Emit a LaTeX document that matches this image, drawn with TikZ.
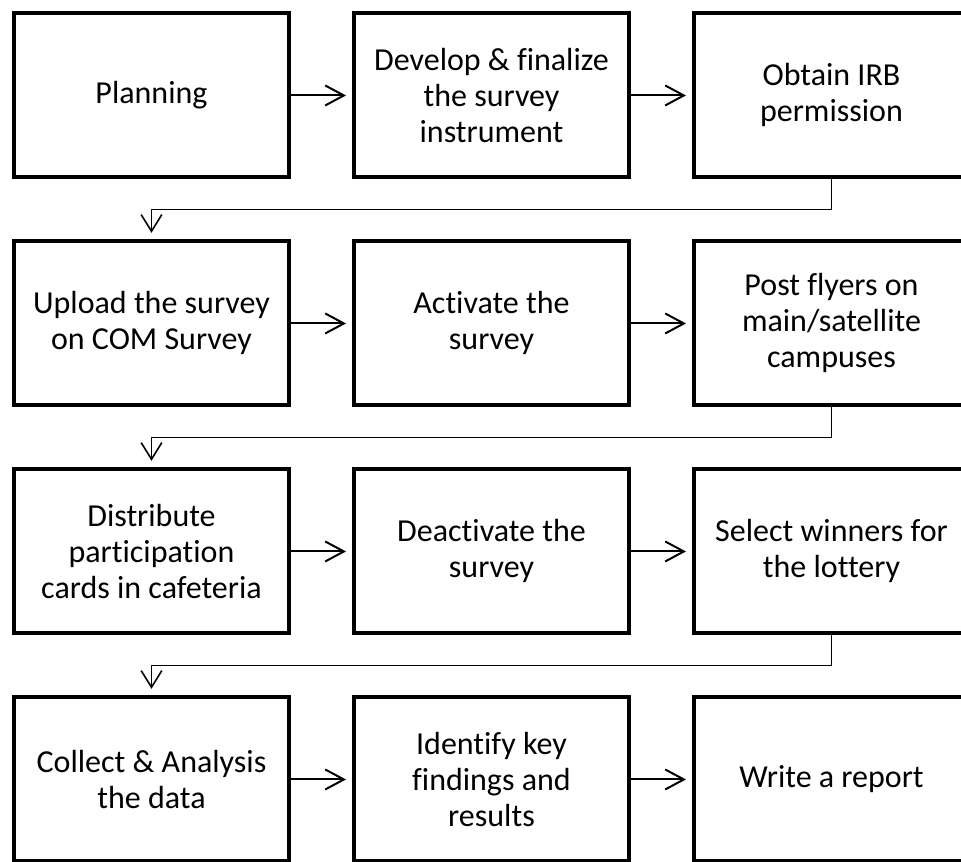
\documentclass[tikz,border=0pt]{standalone}
\usepackage{fontspec}
\setmainfont{Carlito}[Ligatures=NoCommon]
\usetikzlibrary{positioning,arrows.meta}
\tikzset{
  stage/.style = {draw, line width=3pt, align=center, minimum width=206.25pt,
                  minimum height=123pt, font=\fontsize{24}{27}\selectfont},
  arrow/.style = {-{Straight Barb[length=14pt,width=15pt]}, line width=1.5pt, shorten >=4.5pt},
  link/.style  = {-{Straight Barb[length=12.5pt,width=15.5pt]}, line width=1.2pt, shorten >=5pt},
}
\begin{document}
\begin{tikzpicture}[node distance=45pt and 45.75pt]
  \useasboundingbox (0,0) rectangle (720.75pt,-646.5pt);
  % row 1
  \node[stage, anchor=north west] (plan) at (9pt,-8.6pt) {Planning};
  \node[stage, right=of plan] (develop) {Develop \& finalize\\the survey\\instrument};
  \node[stage, right=of develop] (irb) {Obtain IRB\\permission};
  % row 2
  \node[stage, below=of plan] (upload) {Upload the survey\\on COM Survey};
  \node[stage, right=of upload] (activate) {Activate the\\survey};
  \node[stage, right=of activate] (flyers) {Post flyers on\\main/satellite\\campuses};
  % row 3
  \node[stage, below=of upload] (cards) {Distribute\\participation\\cards in cafeteria};
  \node[stage, right=of cards] (deactivate) {Deactivate the\\survey};
  \node[stage, right=of deactivate] (winners) {Select winners for\\the lottery};
  % row 4
  \node[stage, below=of cards] (collect) {Collect \& Analysis\\the data};
  \node[stage, right=of collect] (findings) {Identify key\\findings and\\results};
  \node[stage, right=of findings] (report) {Write a report};

  \draw[arrow] (plan) -- (develop);
  \draw[arrow] (develop) -- (irb);
  \draw[arrow] (upload) -- (activate);
  \draw[arrow] (activate) -- (flyers);
  \draw[arrow] (cards) -- (deactivate);
  \draw[arrow] (deactivate) -- (winners);
  \draw[arrow] (collect) -- (findings);
  \draw[arrow] (findings) -- (report);

  % row to row
  \draw[link] (irb.south) -- ++(0,-22.5pt) -| (upload.north);
  \draw[link] (flyers.south) -- ++(0,-22.5pt) -| (cards.north);
  \draw[link] (winners.south) -- ++(0,-22.5pt) -| (collect.north);
\end{tikzpicture}
\end{document}
